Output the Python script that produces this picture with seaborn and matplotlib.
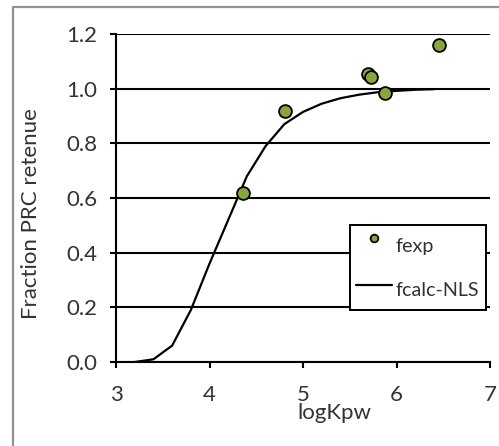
import matplotlib
matplotlib.use("Agg")
import matplotlib.pyplot as plt
import seaborn as sns
from matplotlib.lines import Line2D

# Data
fexp_x = [4.36, 4.81, 5.70, 5.73, 5.88, 6.45]
fexp_y = [0.62, 0.92, 1.053, 1.044, 0.983, 1.16]

calc_x = [3.2, 3.4, 3.6, 3.8, 4.0, 4.2, 4.4, 4.6, 4.8, 5.0, 5.2, 5.4, 5.6, 5.8, 6.0, 6.2, 6.4]
calc_y = [0.0, 0.01, 0.06, 0.19, 0.36, 0.52, 0.68, 0.79, 0.87, 0.915, 0.945, 0.965,
          0.978, 0.987, 0.992, 0.996, 0.998]

y_ticks = [0.0, 0.2, 0.4, 0.6, 0.8, 1.0, 1.2]
x_ticks = [3, 4, 5, 6, 7]

sns.set_style("ticks")
plt.rcParams["font.family"] = ["Lato", "DejaVu Sans"]
TXT = "#333333"

fig = plt.figure(figsize=(4.99, 4.46), dpi=100)
ax = fig.add_axes([0.2325, 0.1883, 0.7495, 0.7355])

sns.lineplot(x=calc_x, y=calc_y, ax=ax, color="black", linewidth=1.6,
             label="fcalc-NLS", zorder=3)
sns.scatterplot(x=fexp_x, y=fexp_y, ax=ax, color="#8aa53e", edgecolor="black",
                linewidth=1.3, s=85, label="fexp", zorder=4)

ax.set_xlim(3, 7)
ax.set_ylim(0, 1.2)
ax.set_xticks(x_ticks)
ax.set_yticks(y_ticks)
ax.set_yticklabels([f"{v:.1f}" for v in y_ticks])
ax.yaxis.grid(True, color="black", linewidth=1.5)
ax.set_axisbelow(True)

for side in ["top", "right"]:
    ax.spines[side].set_visible(False)
for side in ["left", "bottom"]:
    ax.spines[side].set_color("black")
    ax.spines[side].set_linewidth(1.5)

ax.tick_params(axis="both", direction="out", length=4.3, width=1.5, color="black",
               labelsize=16, labelcolor=TXT)
ax.tick_params(axis="y", pad=9)
ax.tick_params(axis="x", pad=12)

ax.set_xlabel("logKpw", fontsize=16, color=TXT)
ax.set_ylabel("Fraction PRC retenue", fontsize=16, color=TXT)
ax.xaxis.set_label_coords(0.585, -0.125)
ax.yaxis.set_label_coords(-0.2, 0.453)

handles, labels = ax.get_legend_handles_labels()
order = [labels.index("fexp"), labels.index("fcalc-NLS")]
leg = ax.legend([handles[i] for i in order], [labels[i] for i in order],
                loc="upper left", bbox_to_anchor=(0.626, 0.418), borderaxespad=0,
                fontsize=14.2, handlelength=1.8, handleheight=1.9, handletextpad=0.2,
                borderpad=0.32, labelspacing=0.72, markerscale=0.6,
                scatteryoffsets=[0.5], fancybox=False, framealpha=1,
                edgecolor="black", facecolor="white", labelcolor=TXT)
leg.get_frame().set_linewidth(1.4)
leg.set_zorder(5)

# outer chart-area border (only left and top visible)
fig.add_artist(Line2D([13 / 499, 13 / 499], [0, 1 - 7 / 446], color="#909090",
                      linewidth=1.6, transform=fig.transFigure))
fig.add_artist(Line2D([13 / 499, 1], [1 - 7 / 446, 1 - 7 / 446], color="#909090",
                      linewidth=1.6, transform=fig.transFigure))

fig.savefig("out.png", dpi=100)
